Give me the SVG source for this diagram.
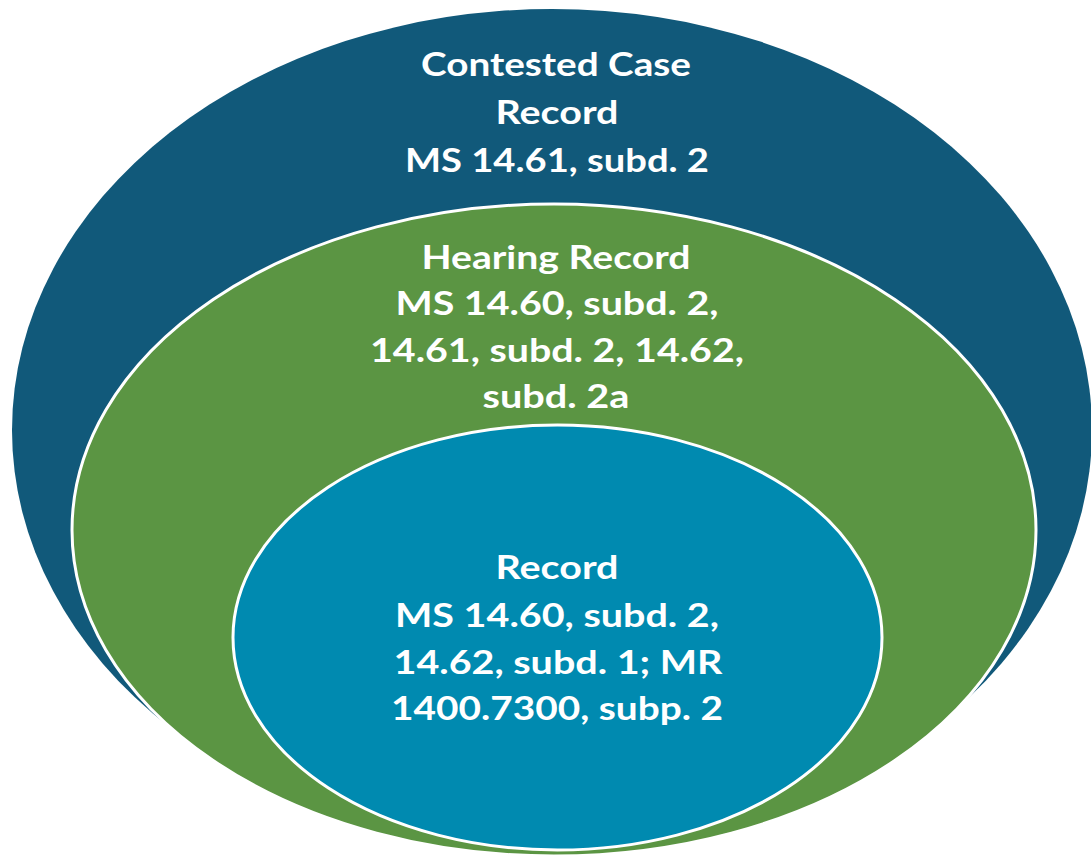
<svg xmlns="http://www.w3.org/2000/svg" width="1091" height="856" viewBox="0 0 1091 856">
<style>
.lbl{font-family:Lato,"Open Sans","Liberation Sans",sans-serif;font-weight:bold;font-size:33px;fill:#fff;text-anchor:middle}
.ring{stroke:#fff;stroke-width:3}
</style>
<rect width="1091" height="856" fill="#fff"/>
<g id="contested-case-record">
<ellipse cx="552" cy="430" rx="540" ry="421" fill="#11597A"/>
<text class="lbl" x="556" y="76" textLength="270" lengthAdjust="spacingAndGlyphs">Contested Case</text>
<text class="lbl" x="557" y="124" textLength="123" lengthAdjust="spacingAndGlyphs">Record</text>
<text class="lbl" x="557" y="172" textLength="304" lengthAdjust="spacingAndGlyphs">MS 14.61, subd. 2</text>
</g>
<g id="hearing-record">
<ellipse class="ring" cx="554" cy="530" rx="482" ry="326" fill="#5B9543"/>
<text class="lbl" x="556" y="269" textLength="269" lengthAdjust="spacingAndGlyphs">Hearing Record</text>
<text class="lbl" x="557" y="315" textLength="323" lengthAdjust="spacingAndGlyphs">MS 14.60, subd. 2,</text>
<text class="lbl" x="557" y="362" textLength="374" lengthAdjust="spacingAndGlyphs">14.61, subd. 2, 14.62,</text>
<text class="lbl" x="556" y="408" textLength="147" lengthAdjust="spacingAndGlyphs">subd. 2a</text>
</g>
<g id="record">
<ellipse class="ring" cx="557.5" cy="637.5" rx="324.5" ry="212.5" fill="#008AB0"/>
<text class="lbl" x="557" y="579" textLength="123" lengthAdjust="spacingAndGlyphs">Record</text>
<text class="lbl" x="557" y="627" textLength="324" lengthAdjust="spacingAndGlyphs">MS 14.60, subd. 2,</text>
<text class="lbl" x="558" y="674" textLength="329" lengthAdjust="spacingAndGlyphs">14.62, subd. 1; MR</text>
<text class="lbl" x="557" y="720" textLength="332" lengthAdjust="spacingAndGlyphs">1400.7300, subp. 2</text>
</g>
<g id="connectors"/>
</svg>
